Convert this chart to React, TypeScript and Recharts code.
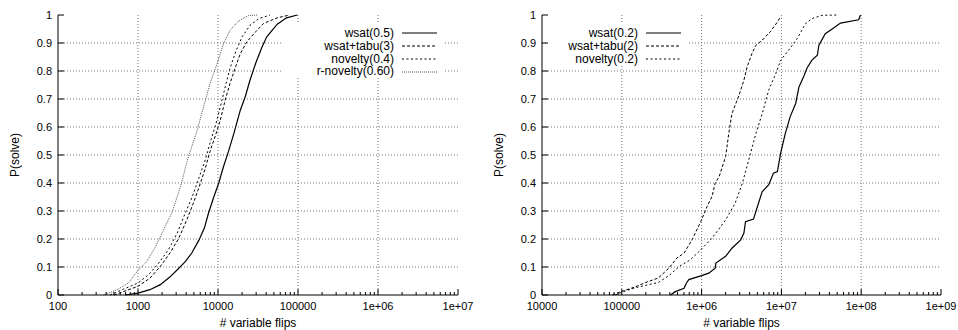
import React from 'react';
import { CartesianGrid, Legend, Line, LineChart, XAxis, YAxis } from 'recharts';

const FONT = '"Liberation Sans", Arial, Helvetica, sans-serif';

type Pt = { x: number; p: number };

// left panel: flips needed by each algorithm
const leftTicks = [100, 1000, 10000, 100000, 1e6, 1e7];
const wsat05: Pt[] = [
  { x: 690, p: 0 }, { x: 1000, p: 0.007 }, { x: 1410, p: 0.019 }, { x: 1900, p: 0.037 },
  { x: 2500, p: 0.064 }, { x: 3100, p: 0.09 }, { x: 3900, p: 0.119 }, { x: 4700, p: 0.15 },
  { x: 5750, p: 0.195 }, { x: 6750, p: 0.239 }, { x: 7600, p: 0.292 }, { x: 8900, p: 0.352 },
  { x: 10200, p: 0.399 }, { x: 11700, p: 0.458 }, { x: 13500, p: 0.512 }, { x: 15800, p: 0.577 },
  { x: 19000, p: 0.66 }, { x: 21900, p: 0.708 }, { x: 25100, p: 0.767 }, { x: 29500, p: 0.827 },
  { x: 35500, p: 0.886 }, { x: 40700, p: 0.922 }, { x: 55000, p: 0.967 }, { x: 72000, p: 0.99 },
  { x: 98000, p: 1 },
];
const tabu3: Pt[] = [
  { x: 501, p: 0 }, { x: 1000, p: 0.031 }, { x: 1410, p: 0.06 }, { x: 1900, p: 0.102 },
  { x: 2510, p: 0.15 }, { x: 3240, p: 0.203 }, { x: 4070, p: 0.268 }, { x: 5010, p: 0.334 },
  { x: 6030, p: 0.399 }, { x: 6920, p: 0.452 }, { x: 7940, p: 0.512 }, { x: 9330, p: 0.571 },
  { x: 10700, p: 0.625 }, { x: 12300, p: 0.696 }, { x: 14100, p: 0.755 }, { x: 16600, p: 0.815 },
  { x: 19000, p: 0.862 }, { x: 22900, p: 0.904 }, { x: 29500, p: 0.94 }, { x: 37200, p: 0.97 },
  { x: 55000, p: 0.99 }, { x: 79000, p: 1 },
];
const novelty04: Pt[] = [
  { x: 447, p: 0 }, { x: 1000, p: 0.043 }, { x: 1350, p: 0.072 }, { x: 1820, p: 0.114 },
  { x: 2400, p: 0.162 }, { x: 3090, p: 0.221 }, { x: 3890, p: 0.292 }, { x: 4790, p: 0.352 },
  { x: 5750, p: 0.417 }, { x: 6920, p: 0.482 }, { x: 7940, p: 0.542 }, { x: 9330, p: 0.607 },
  { x: 10700, p: 0.672 }, { x: 12300, p: 0.743 }, { x: 14100, p: 0.809 }, { x: 16600, p: 0.868 },
  { x: 20000, p: 0.922 }, { x: 25100, p: 0.963 }, { x: 32400, p: 0.987 }, { x: 44700, p: 1 },
];
const rnovelty060: Pt[] = [
  { x: 372, p: 0 }, { x: 550, p: 0.019 }, { x: 760, p: 0.043 }, { x: 1000, p: 0.088 },
  { x: 1290, p: 0.12 }, { x: 1660, p: 0.173 }, { x: 2090, p: 0.233 }, { x: 2690, p: 0.298 },
  { x: 3390, p: 0.387 }, { x: 4270, p: 0.494 }, { x: 5500, p: 0.589 }, { x: 6610, p: 0.672 },
  { x: 7940, p: 0.755 }, { x: 9770, p: 0.827 }, { x: 11750, p: 0.898 }, { x: 14100, p: 0.945 },
  { x: 18200, p: 0.979 }, { x: 24000, p: 0.998 }, { x: 30900, p: 1 },
];

// right panel
const rightTicks = [10000, 100000, 1e6, 1e7, 1e8, 1e9];
const wsat02: Pt[] = [
  { x: 407000, p: 0 }, { x: 468000, p: 0.012 }, { x: 603000, p: 0.024 }, { x: 646000, p: 0.043 },
  { x: 692000, p: 0.055 }, { x: 1.0e6, p: 0.069 }, { x: 1.23e6, p: 0.078 }, { x: 1.48e6, p: 0.096 },
  { x: 1.51e6, p: 0.114 }, { x: 2.0e6, p: 0.138 }, { x: 2.4e6, p: 0.167 }, { x: 3.09e6, p: 0.197 },
  { x: 3.39e6, p: 0.221 }, { x: 3.55e6, p: 0.262 }, { x: 4.47e6, p: 0.271 }, { x: 5.01e6, p: 0.316 },
  { x: 5.75e6, p: 0.369 }, { x: 6.92e6, p: 0.393 }, { x: 7.94e6, p: 0.435 }, { x: 8.91e6, p: 0.441 },
  { x: 9.77e6, p: 0.506 }, { x: 1.12e7, p: 0.577 }, { x: 1.29e7, p: 0.637 }, { x: 1.51e7, p: 0.684 },
  { x: 1.66e7, p: 0.743 }, { x: 1.91e7, p: 0.781 }, { x: 2.09e7, p: 0.81 }, { x: 2.4e7, p: 0.838 },
  { x: 2.82e7, p: 0.856 }, { x: 2.95e7, p: 0.892 }, { x: 3.55e7, p: 0.933 }, { x: 4.37e7, p: 0.951 },
  { x: 5.5e7, p: 0.971 }, { x: 9.3e7, p: 0.983 }, { x: 9.8e7, p: 1 },
];
const tabu2: Pt[] = [
  { x: 76000, p: 0 }, { x: 100000, p: 0.013 }, { x: 148000, p: 0.029 }, { x: 200000, p: 0.045 },
  { x: 288000, p: 0.061 }, { x: 389000, p: 0.096 }, { x: 490000, p: 0.132 }, { x: 603000, p: 0.15 },
  { x: 759000, p: 0.197 }, { x: 977000, p: 0.262 }, { x: 1.17e6, p: 0.316 }, { x: 1.35e6, p: 0.352 },
  { x: 1.48e6, p: 0.399 }, { x: 1.66e6, p: 0.423 }, { x: 2.0e6, p: 0.494 }, { x: 2.19e6, p: 0.577 },
  { x: 2.4e6, p: 0.648 }, { x: 2.95e6, p: 0.714 }, { x: 3.39e6, p: 0.767 }, { x: 3.72e6, p: 0.815 },
  { x: 4.27e6, p: 0.862 }, { x: 4.79e6, p: 0.892 }, { x: 5.75e6, p: 0.91 }, { x: 7.24e6, p: 0.94 },
  { x: 8.91e6, p: 0.975 }, { x: 9.77e6, p: 0.995 },
];
const novelty02: Pt[] = [
  { x: 83000, p: 0 }, { x: 100000, p: 0.01 }, { x: 148000, p: 0.026 }, { x: 288000, p: 0.045 },
  { x: 389000, p: 0.069 }, { x: 525000, p: 0.102 }, { x: 724000, p: 0.126 }, { x: 933000, p: 0.156 },
  { x: 1.35e6, p: 0.203 }, { x: 2.0e6, p: 0.268 }, { x: 2.63e6, p: 0.328 }, { x: 3.24e6, p: 0.399 },
  { x: 3.89e6, p: 0.482 }, { x: 4.79e6, p: 0.577 }, { x: 5.75e6, p: 0.648 }, { x: 6.92e6, p: 0.731 },
  { x: 8.51e6, p: 0.791 }, { x: 9.77e6, p: 0.838 }, { x: 1.23e7, p: 0.874 }, { x: 1.58e7, p: 0.916 },
  { x: 2.0e7, p: 0.969 }, { x: 2.4e7, p: 0.987 }, { x: 3.24e7, p: 0.999 }, { x: 5.25e7, p: 1 },
];

const yTicks = [0, 0.1, 0.2, 0.3, 0.4, 0.5, 0.6, 0.7, 0.8, 0.9, 1];
const yGrid = [0.1, 0.2, 0.3, 0.4, 0.5, 0.6, 0.7, 0.8, 0.9];

type Series = { name: string; data: Pt[]; dash?: string; color: string; width: number };

const SOLID = { color: '#000', width: 1.2 };
const DASHED = { color: '#000', width: 1, dash: '3 2' };
const DOTTED = { color: '#000', width: 1, dash: '2 2.5' };
const FINE = { color: '#555', width: 1, dash: '1 1' };

const leftSeries: Series[] = [
  { name: 'wsat(0.5)', data: wsat05, ...SOLID },
  { name: 'wsat+tabu(3)', data: tabu3, ...DASHED },
  { name: 'novelty(0.4)', data: novelty04, ...DOTTED },
  { name: 'r-novelty(0.60)', data: rnovelty060, ...FINE },
];
const rightSeries: Series[] = [
  { name: 'wsat(0.2)', data: wsat02, ...SOLID },
  { name: 'wsat+tabu(2)', data: tabu2, ...DASHED },
  { name: 'novelty(0.2)', data: novelty02, ...DOTTED },
];

// minor log ticks 2..9 in each decade
const withMinor = (majors: number[]) => {
  const out: number[] = [];
  majors.forEach((d, i) => {
    out.push(d);
    if (i < majors.length - 1) for (let m = 2; m < 10; m++) out.push(d * m);
  });
  return out;
};

const isMajor = (v: number) => Math.abs(Math.log10(v) - Math.round(Math.log10(v))) < 1e-9;
const fmt = (v: number) => {
  const e = Math.round(Math.log10(v));
  return e >= 6 ? `1e+${String(e).padStart(2, '0')}` : String(v);
};

const TM = 6;

const BottomTick = (props: any) => {
  const { x, y, payload } = props;
  const major = isMajor(payload.value);
  const y0 = y - TM;
  return (
    <g>
      <line x1={x} x2={x} y1={y0} y2={y0 - (major ? 6 : 3)} stroke="#000" />
      {major && (
        <text x={x} y={y + 1} dy="0.71em" textAnchor="middle" fontFamily={FONT} fontSize={11} fill="#000">
          {fmt(payload.value)}
        </text>
      )}
    </g>
  );
};

const TopTick = (props: any) => {
  const { x, y, payload } = props;
  const major = isMajor(payload.value);
  return <line x1={x} x2={x} y1={y} y2={y + (major ? 6 : 3)} stroke="#000" />;
};

const LeftTick = (props: any) => {
  const { x, y, payload } = props;
  const x0 = x + TM;
  return (
    <g>
      <line x1={x0} x2={x0 + 6} y1={y} y2={y} stroke="#000" />
      <text x={x} y={y} dy="0.355em" textAnchor="end" fontFamily={FONT} fontSize={11} fill="#000">
        {String(payload.value)}
      </text>
    </g>
  );
};

const RightTick = (props: any) => {
  const { x, y } = props;
  return <line x1={x} x2={x - 6} y1={y} y2={y} stroke="#000" />;
};

type LegendGeom = { left: number; top: number; width: number; height: number; textWidth: number };

const LegendBox = ({ items, textWidth }: { items: Series[]; textWidth: number }) => (
  <div style={{ paddingTop: 5, fontFamily: FONT, fontSize: 12, color: '#000' }}>
    {items.map((s) => (
      <div key={s.name} style={{ display: 'flex', alignItems: 'center', height: 12.8 }}>
        <span style={{ width: textWidth, textAlign: 'right', whiteSpace: 'nowrap', lineHeight: '12.8px' }}>
          {s.name}
        </span>
        <svg width={35} height={4} style={{ marginLeft: 8, display: 'block' }}>
          <line x1={0} x2={35} y1={2} y2={2} stroke={s.color} strokeWidth={s.width} strokeDasharray={s.dash} />
        </svg>
      </div>
    ))}
  </div>
);

function Panel({
  series,
  ticks,
  yWidth,
  right,
  legend,
}: {
  series: Series[];
  ticks: number[];
  yWidth: number;
  right: number;
  legend: LegendGeom;
}) {
  const all = withMinor(ticks);
  const domain = [ticks[0], ticks[ticks.length - 1]];
  return (
    <LineChart width={479} height={330} margin={{ top: 15, right, bottom: 0, left: 0 }}>
      <CartesianGrid
        stroke="#777"
        strokeDasharray="1 2"
        verticalValues={ticks.slice(1, -1)}
        horizontalValues={yGrid}
      />
      <XAxis
        dataKey="x"
        type="number"
        scale="log"
        domain={domain}
        allowDataOverflow
        ticks={all}
        interval={0}
        height={35}
        tickSize={0}
        tickMargin={TM}
        tick={BottomTick}
        axisLine={{ stroke: '#000' }}
        label={{ value: '# variable flips', position: 'insideBottom', offset: 3, fontSize: 12, fill: '#000', fontFamily: FONT }}
      />
      <XAxis
        xAxisId="top"
        orientation="top"
        type="number"
        scale="log"
        domain={domain}
        allowDataOverflow
        ticks={all}
        interval={0}
        height={0}
        tickSize={0}
        tickMargin={0}
        tick={TopTick}
        axisLine={{ stroke: '#000' }}
      />
      <YAxis
        type="number"
        domain={[0, 1]}
        ticks={yTicks}
        interval={0}
        width={yWidth}
        tickSize={0}
        tickMargin={TM}
        tick={LeftTick}
        axisLine={{ stroke: '#000' }}
        label={{
          content: (p: any) => {
            const vb = p.viewBox;
            const cx = vb.x + yWidth - 43;
            const cy = vb.y + vb.height / 2;
            return (
              <text
                x={cx}
                y={cy}
                transform={`rotate(-90 ${cx} ${cy})`}
                textAnchor="middle"
                dominantBaseline="central"
                fontFamily={FONT}
                fontSize={12}
                fill="#000"
              >
                P(solve)
              </text>
            );
          },
        }}
      />
      <YAxis
        yAxisId="right"
        orientation="right"
        type="number"
        domain={[0, 1]}
        ticks={yTicks}
        interval={0}
        width={0}
        tickSize={0}
        tickMargin={0}
        tick={RightTick}
        axisLine={{ stroke: '#000' }}
      />
      <Legend
        layout="vertical"
        align="center"
        verticalAlign="middle"
        wrapperStyle={{
          left: legend.left,
          top: legend.top,
          width: legend.width,
          height: legend.height,
          background: '#fff',
          margin: 0,
          padding: 0,
        }}
        content={() => <LegendBox items={series} textWidth={legend.textWidth} />}
      />
      {series.map((s) => (
        <Line
          key={s.name}
          name={s.name}
          data={s.data}
          dataKey="p"
          type="linear"
          stroke={s.color}
          strokeWidth={s.width}
          strokeDasharray={s.dash}
          dot={false}
          activeDot={false}
          isAnimationActive={false}
        />
      ))}
    </LineChart>
  );
}

export default function App() {
  return (
    <div style={{ position: 'absolute', left: 0, top: 0, width: 958, height: 330, background: '#fff', display: 'flex' }}>
      <Panel
        series={leftSeries}
        ticks={leftTicks}
        yWidth={58}
        right={21}
        legend={{ left: 283, top: 22, width: 160, height: 56, textWidth: 111 }}
      />
      <Panel
        series={rightSeries}
        ticks={rightTicks}
        yWidth={63}
        right={17}
        legend={{ left: 69, top: 22, width: 140, height: 42, textWidth: 90 }}
      />
    </div>
  );
}
